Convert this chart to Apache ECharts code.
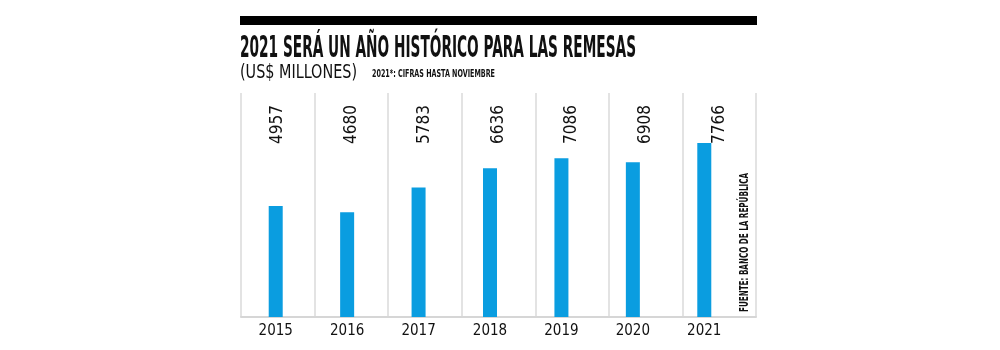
<!DOCTYPE html>
<html>
<head>
<meta charset="utf-8">
<script src="https://cdn.jsdelivr.net/npm/echarts@6/dist/echarts.min.js"></script>
<style>
  html, body { margin: 0; padding: 0; background: #fff; }
  #chart { width: 1000px; height: 350px; }
</style>
</head>
<body>
<div id="chart"></div>
<script>
// datos
var years = ['2015', '2016', '2017', '2018', '2019', '2020', '2021'];
var remesas = [4957, 4680, 5783, 6636, 7086, 6908, 7766];

var narrow = "'Liberation Sans Narrow', 'DejaVu Sans Condensed', sans-serif";
var azul = '#0a9de0';

// comprime un texto horizontalmente hasta el ancho deseado
var ctx = document.createElement('canvas').getContext('2d');
function fitScale(text, font, width) {
    ctx.font = font;
    var w = ctx.measureText(text).width;
    return w > width ? width / w : 1;
}

function textEl(text, font, x, y, width, extra) {
    var el = {
        type: 'text',
        x: x, y: y,
        scaleX: fitScale(text, font, width),
        style: {
            text: text,
            font: font,
            fill: '#111',
            align: 'left',
            verticalAlign: 'middle'
        }
    };
    for (var k in extra) el[k] = extra[k];
    return el;
}

var myChart = echarts.init(document.getElementById('chart'), null, { renderer: 'canvas' });

myChart.setOption({
    animation: false,
    backgroundColor: '#fff',
    grid: [
        { left: 240, right: 260, top: 93, bottom: 33 },   // barras
        { left: 241, right: 244, top: 93, bottom: 33 }    // lineas y etiquetas
    ],
    xAxis: [
        {
            gridIndex: 0,
            type: 'category',
            data: years,
            axisLine: { show: false },
            axisTick: { show: false },
            axisLabel: { color: '#111', fontFamily: narrow, fontSize: 15, margin: 7 }
        },
        {
            gridIndex: 1,
            type: 'category',
            position: 'bottom',
            data: years.map(function () { return ''; }),
            axisLine: { show: true, lineStyle: { color: '#d6d6d6', width: 2 } },
            axisTick: { show: false },
            axisLabel: { show: false },
            splitLine: { show: true, lineStyle: { color: '#dadada', width: 1.5 } }
        },
        {
            gridIndex: 1,
            type: 'category',
            position: 'top',
            data: remesas.map(String),
            axisLine: { show: false },
            axisTick: { show: false },
            axisLabel: {
                inside: true,
                rotate: -90,
                margin: 12,
                color: '#111',
                fontFamily: narrow,
                fontSize: 17
            }
        }
    ],
    yAxis: [
        { gridIndex: 0, type: 'value', min: 0, max: 10000, show: false },
        { gridIndex: 1, type: 'value', min: 0, max: 1, show: false }
    ],
    series: [
        {
            type: 'bar',
            xAxisIndex: 0,
            yAxisIndex: 0,
            data: remesas,
            barWidth: 14,
            itemStyle: { color: azul }
        }
    ],
    graphic: [
        {
            type: 'rect',
            shape: { x: 240, y: 16, width: 517, height: 9 },
            style: { fill: '#000' }
        },
        textEl('2021 SERÁ UN AÑO HISTÓRICO PARA LAS REMESAS', 'bold 30px ' + narrow, 240, 49, 396, {}),
        textEl('(US$ MILLONES)', '20px ' + narrow, 240, 73, 117, {}),
        textEl('2021*: CIFRAS HASTA NOVIEMBRE', 'bold 10px ' + narrow, 372, 74, 123, {}),
        textEl('FUENTE: BANCO DE LA REPÚBLICA', 'bold 12px ' + narrow, 745, 312, 139, { rotation: Math.PI / 2 })
    ]
});
</script>
</body>
</html>
